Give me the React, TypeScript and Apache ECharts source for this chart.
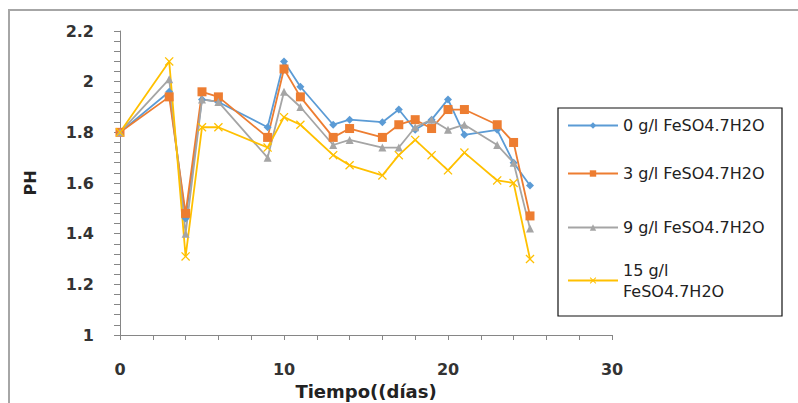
import * as echarts from "echarts";
import { useEffect, useRef } from "react";

const days = [0, 3, 4, 5, 6, 9, 10, 11, 13, 14, 16, 17, 18, 19, 20, 21, 23, 24, 25];

const ph0 = [1.8, 1.96, 1.46, 1.93, 1.92, 1.82, 2.08, 1.98, 1.83, 1.85, 1.84, 1.89, 1.81, 1.85, 1.93, 1.79, 1.81, 1.68, 1.59];
const ph3 = [1.8, 1.94, 1.48, 1.96, 1.94, 1.78, 2.05, 1.94, 1.78, 1.815, 1.78, 1.83, 1.85, 1.815, 1.89, 1.89, 1.83, 1.76, 1.47];
const ph9 = [1.8, 2.01, 1.4, 1.93, 1.92, 1.7, 1.96, 1.9, 1.75, 1.77, 1.74, 1.74, 1.82, 1.85, 1.81, 1.83, 1.75, 1.68, 1.42];
const ph15 = [1.8, 2.08, 1.31, 1.82, 1.82, 1.74, 1.86, 1.83, 1.71, 1.67, 1.63, 1.71, 1.77, 1.71, 1.65, 1.72, 1.61, 1.6, 1.3];

const names = ["0 g/l FeSO4.7H2O", "3 g/l FeSO4.7H2O", "9 g/l FeSO4.7H2O", "15 g/l FeSO4.7H2O"];
const colors = ["#5B9BD5", "#ED7D31", "#A5A5A5", "#FFC000"];

const xSymbol =
  "path://M0,1L1,0L5,4L9,0L10,1L6,5L10,9L9,10L5,6L1,10L0,9L4,5Z";

const FONT = "'DejaVu Sans', sans-serif";

const App = () => {
  const chartRef = useRef(null);

  useEffect(() => {
    const chart = echarts.init(chartRef.current, null, { renderer: "svg" });

    const values = [ph0, ph3, ph9, ph15];
    const symbols = ["diamond", "rect", "triangle", xSymbol];
    const sizes = [8, 9, 8, 9];

    const series = values.map((v, i) => ({
      name: names[i],
      type: "line",
      data: days.map((d, j) => [d, v[j]]),
      symbol: symbols[i],
      symbolSize: sizes[i],
      showSymbol: true,
      lineStyle: { color: colors[i], width: 1.8 },
      itemStyle: { color: colors[i] },
      emphasis: { disabled: true },
    }));

    // one legend per entry, so each row can sit where it is in the picture
    const rowCenters = [125, 173, 227, 280];
    const legend = names.map((n, i) => {
      const last = i === 3;
      return {
        data: [n],
        orient: "vertical",
        left: 567,
        top: last ? rowCenters[i] - 31 : rowCenters[i] - 10,
        padding: 0,
        itemWidth: 50,
        itemHeight: 8,
        selectedMode: false,
        formatter: (name: string) => (name.startsWith("15") ? "15 g/l\nFeSO4.7H2O" : name),
        textStyle: {
          fontFamily: FONT,
          fontSize: 16,
          lineHeight: 21,
          color: "#222",
          padding: last ? [21, 0, 0, 0] : 0,
        },
      };
    });

    const options = {
      animation: false,
      backgroundColor: "#fff",
      grid: { left: 120, right: 186, top: 31, bottom: 68, outerBoundsMode: "none" },
      legend,
      graphic: [
        {
          type: "rect",
          shape: { x: 9, y: 10, width: 820, height: 420 },
          style: { fill: "none", stroke: "#a6a6a6", lineWidth: 2 },
          silent: true,
        },
        {
          type: "rect",
          shape: { x: 558, y: 108, width: 224, height: 208 },
          style: { fill: "none", stroke: "#111", lineWidth: 1.2 },
          silent: true,
        },
      ],
      xAxis: {
        type: "value",
        min: 0,
        max: 30,
        interval: 10,
        name: "Tiempo((días)",
        nameLocation: "middle",
        nameGap: 46,
        nameTextStyle: { fontFamily: FONT, fontSize: 18, lineHeight: 20, fontWeight: "bold", color: "#222" },
        axisLine: { lineStyle: { color: "#868686", width: 1 } },
        axisTick: { show: true, length: 5, lineStyle: { color: "#868686" } },
        minorTick: { show: true, splitNumber: 5, length: 5, lineStyle: { color: "#868686" } },
        splitLine: { show: false },
        axisLabel: { margin: 26, fontFamily: FONT, fontSize: 16, fontWeight: "bold", color: "#333" },
      },
      yAxis: {
        type: "value",
        min: 1,
        max: 2.2,
        interval: 0.2,
        name: "PH",
        nameLocation: "middle",
        nameGap: 82,
        nameRotate: 90,
        nameTextStyle: { fontFamily: FONT, fontSize: 16, fontWeight: "bold", color: "#222" },
        axisLine: { show: true, lineStyle: { color: "#868686", width: 1 } },
        axisTick: { show: true, length: 6, lineStyle: { color: "#868686" } },
        minorTick: { show: true, splitNumber: 5, length: 6, lineStyle: { color: "#868686" } },
        splitLine: { show: false },
        axisLabel: {
          margin: 26,
          fontFamily: FONT,
          fontSize: 16,
          fontWeight: "bold",
          color: "#333",
          formatter: (v: number) => String(Math.round(v * 10) / 10),
        },
      },
      series,
    };

    chart.setOption(options);

    const handleResize = () => chart.resize();
    window.addEventListener("resize", handleResize);

    return () => {
      window.removeEventListener("resize", handleResize);
      chart.dispose();
    };
  }, []);

  return (
    <div
      ref={chartRef}
      style={{ position: "absolute", left: 0, top: 0, width: "798px", height: "403px" }}
    />
  );
};

export default App;
